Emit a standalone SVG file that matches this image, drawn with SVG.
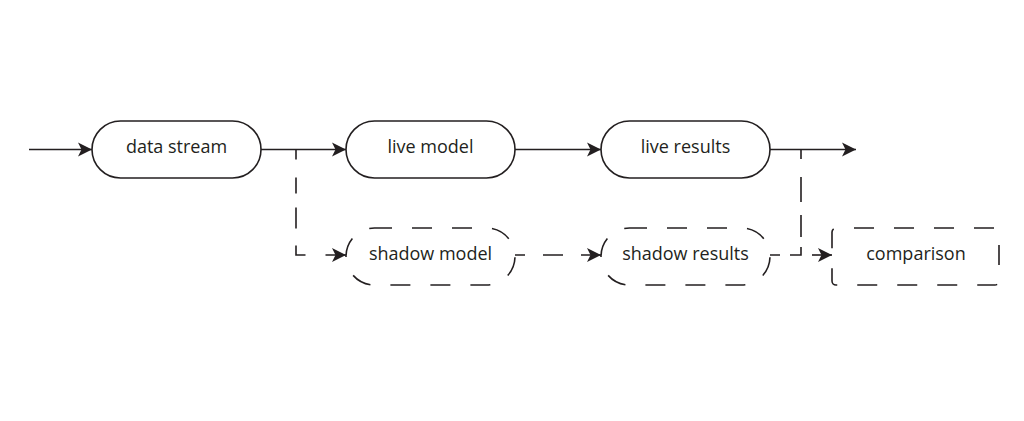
<svg xmlns="http://www.w3.org/2000/svg" width="1024" height="421" viewBox="0 0 1024 421">
  <style>
    .node { fill: #ffffff; stroke: #231f20; stroke-width: 1.6; }
    .dashed { stroke-dasharray: 20 20; stroke-dashoffset: 2.5; }
    .label { font-family: "Open Sans", "Noto Sans", sans-serif; font-size: 18px; fill: #231f20; text-anchor: middle; }
    .edge { fill: none; stroke: #231f20; stroke-width: 1.6; }
  </style>
  <defs>
    <marker id="arrow" viewBox="-15 -8 16 16" refX="0" refY="0" markerWidth="16" markerHeight="16" markerUnits="userSpaceOnUse" orient="auto">
      <path d="M0 0 L-14 -7 L-10.5 0 L-14 7 Z" fill="#231f20"/>
    </marker>
  </defs>
  <rect width="1024" height="421" fill="#ffffff"/>

  <g id="connectors">
    <path class="edge" d="M29 149.5 H92" marker-end="url(#arrow)"/>
    <path class="edge" d="M261 149.5 H346" marker-end="url(#arrow)"/>
    <path class="edge" d="M515 149.5 H601" marker-end="url(#arrow)"/>
    <path class="edge" d="M770 149.5 H856" marker-end="url(#arrow)"/>
    <path class="edge" d="M296 149.5 V255 H346" stroke-dasharray="10 18 16 14 21 17 19 20 22" marker-end="url(#arrow)"/>
    <path class="edge" d="M515 255 H601" stroke-dasharray="20 18" stroke-dashoffset="10" marker-end="url(#arrow)"/>
    <path class="edge" d="M770 255 H801 V149.5" stroke-dasharray="10 10 19 10 22 13 25 18 12"/>
    <path class="edge" d="M812 255 H832" marker-end="url(#arrow)"/>
  </g>

  <g id="data-stream">
    <rect class="node" x="92" y="121" width="169" height="57" rx="28.5"/>
    <text class="label" x="176.5" y="153">data stream</text>
  </g>
  <g id="live-model">
    <rect class="node" x="346" y="121" width="169" height="57" rx="28.5"/>
    <text class="label" x="430.5" y="153">live model</text>
  </g>
  <g id="live-results">
    <rect class="node" x="601" y="121" width="169" height="57" rx="28.5"/>
    <text class="label" x="685.5" y="153">live results</text>
  </g>
  <g id="shadow-model">
    <rect class="node dashed" x="346" y="228" width="169" height="57" rx="28.5"/>
    <text class="label" x="430.5" y="260">shadow model</text>
  </g>
  <g id="shadow-results">
    <rect class="node dashed" x="601" y="228" width="169" height="57" rx="28.5"/>
    <text class="label" x="685.5" y="260">shadow results</text>
  </g>
  <g id="comparison">
    <rect class="node" x="832" y="228" width="167" height="57" rx="4" stroke-dasharray="20 20" stroke-dashoffset="22"/>
    <text class="label" x="916" y="260">comparison</text>
  </g>
</svg>
